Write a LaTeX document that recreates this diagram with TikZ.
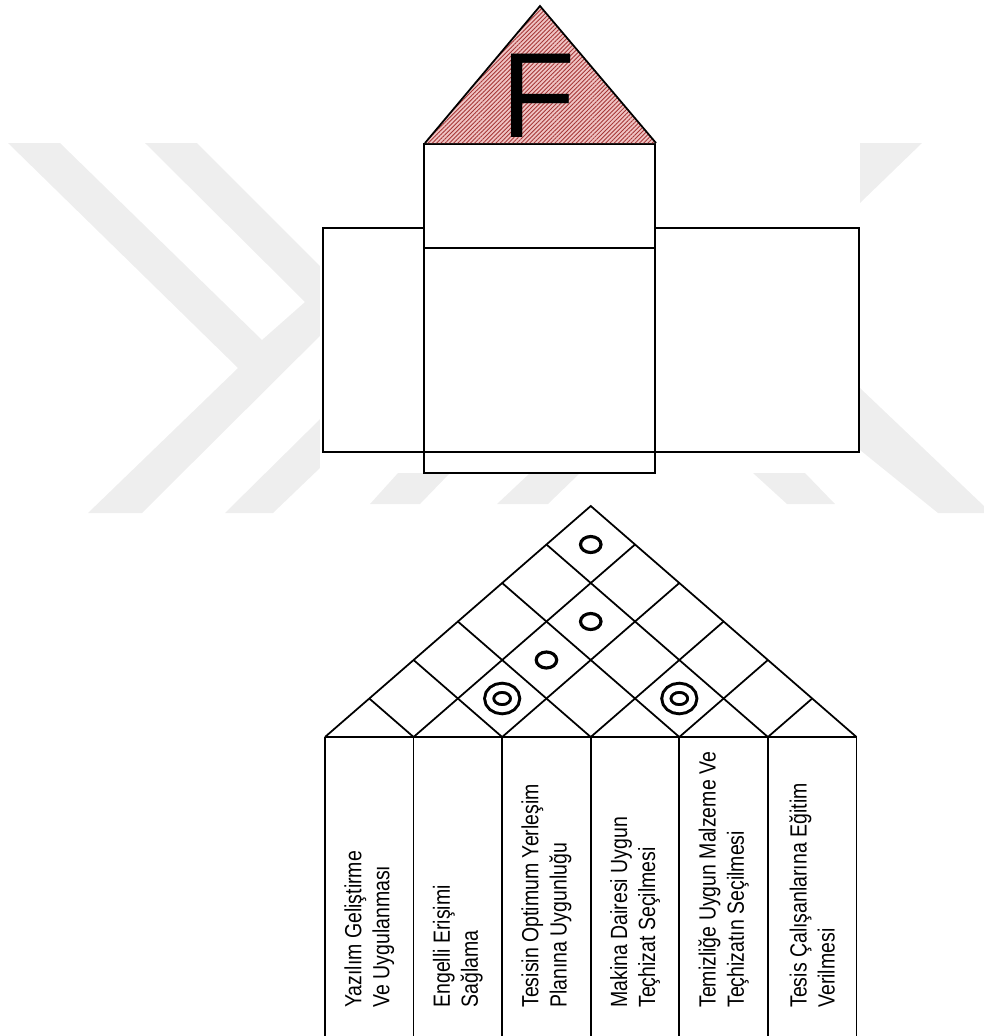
\documentclass[tikz,border=0pt]{standalone}
\usepackage{fontspec}
\newfontfamily\arialfont{Liberation Sans}
\usetikzlibrary{patterns.meta,shapes.geometric}

\definecolor{wmgray}{RGB}{238,238,238}
\definecolor{roofpink}{RGB}{240,196,196}
\definecolor{roofline}{RGB}{165,55,55}

\begin{document}
\begin{tikzpicture}[
  x=0.02cm, y=-0.02cm,
  wall/.style={draw=black, line width=1pt},
  watermark/.style={fill=wmgray},
  medium/.style={ellipse, draw=black, line width=1.8pt, inner sep=0pt, minimum width=0.41cm, minimum height=0.32cm},
  strong/.style={ellipse, draw=black, double, double distance=3.4pt, line width=1.7pt, inner sep=0pt, minimum width=0.52cm, minimum height=0.43cm},
  colhead/.style={rotate=90, yscale=1.2, anchor=west, align=left, inner sep=0pt, font=\arialfont\fontsize{11.1}{13.3}\selectfont}
]
\useasboundingbox (0,0) rectangle (984,1036);

% === Watermark (background) ===
\fill[watermark] (8,143) -- (60,143) -- (262,340) -- (305,302) -- (145,143) -- (197,143)
  -- (355,301) -- (142,513) -- (88,513) -- (238,368) -- cycle;
\fill[watermark] (225,513) -- (273,513) -- (443,350) -- (390,350) -- cycle;
\fill[watermark] (860,143) -- (922,143) -- (860,203) -- cycle;
\fill[watermark] (860,388) -- (984,506) -- (984,513) -- (938,513) -- (860,450) -- cycle;
\fill[white] (320,0) rectangle (860,473);
\fill[watermark] (370,504) -- (420,504) -- (450,473) -- (398,473) -- cycle;
\fill[watermark] (497,504) -- (548,504) -- (580,473) -- (530,473) -- cycle;
\fill[watermark] (753,473) -- (805,473) -- (835,504) -- (787,504) -- cycle;

% === Upper house ===
\coordinate (F apex)  at (540,6);
\coordinate (F left)  at (425,143);
\coordinate (F right) at (656,143);

\draw[wall] (323,228) rectangle (859,452);          % side walls
\filldraw[wall, fill=white] (424,144) rectangle (655,248);
\draw[wall] (424,248) rectangle (655,473);

% hatched roof
\fill[roofpink] (F left) -- (F apex) -- (F right) -- cycle;
\fill[pattern={Lines[angle=45,distance=1.7pt,line width=0.5pt]}, pattern color=roofline]
  (F left) -- (F apex) -- (F right) -- cycle;
\draw[wall] (F left) -- (F apex) -- (F right);
\node[anchor=base, inner sep=0pt, font=\arialfont\fontsize{69}{69}\selectfont] (F) at (539,137) {F};

% === Lower house: correlation roof ===
\def\colw{88.58}
\def\rowh{38.5}
\coordinate (apex)   at (590.75,506);
\coordinate (base L) at (325,737);
\coordinate (base R) at (856.5,737);

\draw[wall] (base L) -- (apex) -- (base R);
\draw[wall] (base L) -- (base R);
\foreach \k in {1,...,5}{
  \coordinate (b\k) at ({325+\k*\colw},737);
  \draw[wall] (b\k) -- ++({(6-\k)*\colw/2},{-(6-\k)*\rowh});
  \draw[wall] (b\k) -- ++({-\k*\colw/2},{-\k*\rowh});
}

% relationship symbols
\node[medium] (r16) at (590.75,544.5) {};
\node[medium] (r25) at (590.75,621.5) {};
\node[medium] (r24) at (546.45,660)   {};
\node[strong] (r23) at (502.16,698.5) {};
\node[strong] (r45) at (679.33,698.5) {};

% === Columns ===
\foreach \k in {0,...,6}
  \draw[wall] ({325+\k*\colw},737) -- ({325+\k*\colw},1036);

\foreach \i/\txt in {
  1/{Yazılım Geliştirme\\Ve Uygulanması},
  2/{Engelli Erişimi\\Sağlama},
  3/{Tesisin Optimum Yerleşim\\Planına Uygunluğu},
  4/{Makina Dairesi Uygun\\Teçhizat Seçilmesi},
  5/{Temizliğe Uygun Malzeme Ve\\Teçhizatın Seçilmesi},
  6/{Tesis Çalışanlarına Eğitim\\Verilmesi}}
  \node[colhead] (h\i) at ({325+(\i-0.5)*\colw},1008) {\txt};

\end{tikzpicture}
\end{document}
